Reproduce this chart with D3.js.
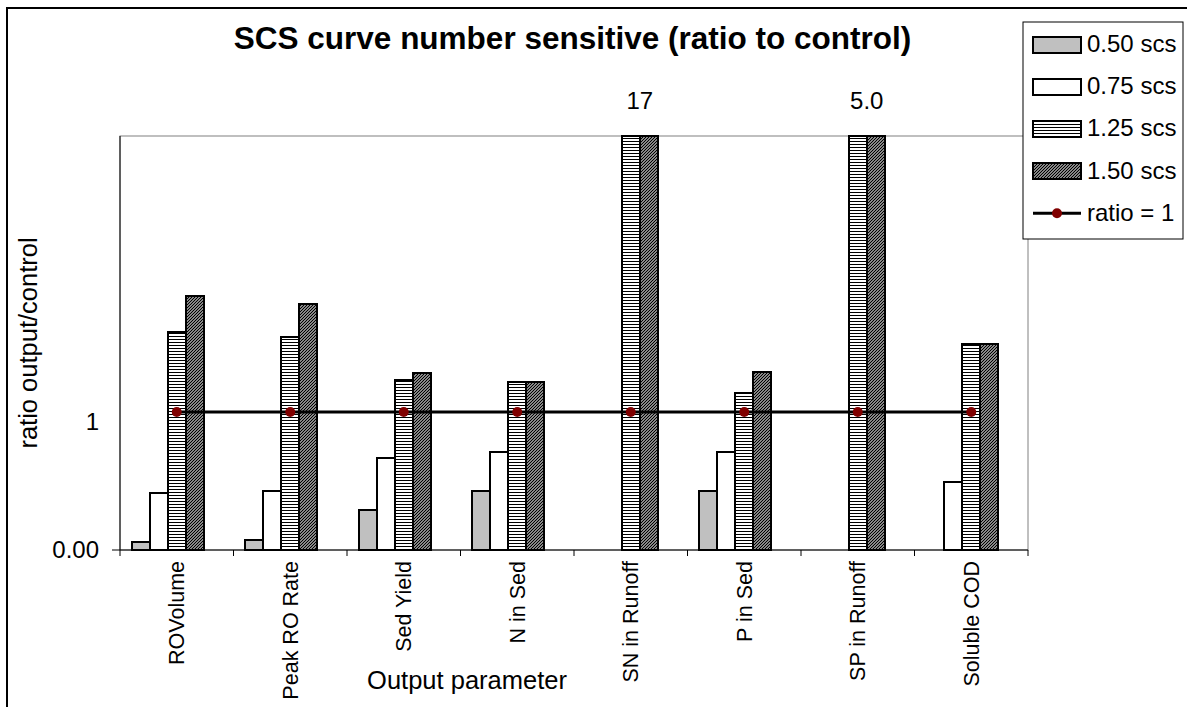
<!DOCTYPE html>
<html>
<head>
<meta charset="utf-8">
<script src="https://cdn.jsdelivr.net/npm/d3@7"></script>
<style>
  html, body { margin: 0; padding: 0; background: #fff; }
  svg { display: block; font-family: "Liberation Sans", Arial, sans-serif; }
</style>
</head>
<body>
<svg id="chart" width="1187" height="707"></svg>
<script>
// Output parameters on the category axis
const categories = ["ROVolume", "Peak RO Rate", "Sed Yield", "N in Sed",
                    "SN in Runoff", "P in Sed", "SP in Runoff", "Soluble COD"];

// Ratio of output to control for each curve-number multiplier (null = not reported)
const scs050 = [0.06, 0.07, 0.29, 0.43, null, 0.43, null, null];
const scs075 = [0.41, 0.43, 0.67, 0.71, null, 0.71, null, 0.49];
const scs125 = [1.58, 1.54, 1.23, 1.22, 17, 1.14, 5.0, 1.49];
const scs150 = [1.84, 1.78, 1.28, 1.22, 17, 1.29, 5.0, 1.49];

// Reference line: ratio of one at every category
const ratioLine = [1, 1, 1, 1, 1, 1, 1, 1];

const seriesNames = ["0.50 scs", "0.75 scs", "1.25 scs", "1.50 scs"];
const lineName = "ratio = 1";

// Y axis
const yMax = 3;
const yTickValues = [0, 1];
const yTickLabels = ["0.00", "1"];

const series = [scs050, scs075, scs125, scs150];
const fills = ["#c0c0c0", "#ffffff", "url(#hatchH)", "url(#hatchD)"];

const svg = d3.select("#chart");
const W = 1187, H = 707;
const plot = { left: 120, right: 1028, top: 136, bottom: 550 };

// Patterns for the striped series
const defs = svg.append("defs");
const pH = defs.append("pattern").attr("id", "hatchH")
  .attr("patternUnits", "userSpaceOnUse").attr("width", 4).attr("height", 3);
pH.append("rect").attr("width", 4).attr("height", 3).attr("fill", "#fff");
pH.append("rect").attr("y", 0).attr("width", 4).attr("height", 1).attr("fill", "#000");

const pD = defs.append("pattern").attr("id", "hatchD")
  .attr("patternUnits", "userSpaceOnUse").attr("width", 3).attr("height", 3);
pD.append("rect").attr("width", 3).attr("height", 3).attr("fill", "#fff");
pD.append("path").attr("d", "M0,3 L3,0 M-1,1 L1,-1 M2,4 L4,2")
  .attr("stroke", "#000").attr("stroke-width", 1.35);

// Background and outer frame
svg.append("rect").attr("width", W).attr("height", H).attr("fill", "#fff");
svg.append("path").attr("d", `M7,${H} L7,8 L${W},8`)
  .attr("fill", "none").attr("stroke", "#000").attr("stroke-width", 2);

// Scales
const x0 = d3.scaleBand().domain(categories).range([plot.left, plot.right]).padding(0);
const x1 = d3.scaleBand().domain(d3.range(5)).range([0, x0.bandwidth()])
  .paddingInner(0).paddingOuter(0.65);
const y = d3.scaleLinear().domain([0, yMax]).range([plot.bottom, plot.top]);

// Plot area border
svg.append("rect")
  .attr("x", plot.left).attr("y", plot.top)
  .attr("width", plot.right - plot.left).attr("height", plot.bottom - plot.top)
  .attr("fill", "#fff").attr("stroke", "#808080").attr("stroke-width", 1);

// Bars
const barG = svg.append("g");
series.forEach((vals, si) => {
  barG.selectAll(null)
    .data(vals.map((v, i) => ({ cat: categories[i], v })).filter(d => d.v != null))
    .join("rect")
    .attr("x", d => x0(d.cat) + x1(si))
    .attr("y", d => y(Math.min(d.v, yMax)))
    .attr("width", x1.bandwidth())
    .attr("height", d => y(0) - y(Math.min(d.v, yMax)))
    .attr("fill", fills[si])
    .attr("stroke", "#000")
    .attr("stroke-width", 2)
    .attr("shape-rendering", "crispEdges");
});

// Values beyond the axis maximum are written above the clipped bars
const fmt = d3.format(".2r");
svg.append("g").selectAll("text")
  .data(categories.map((c, i) => ({ cat: c, v: scs150[i] })).filter(d => d.v > yMax))
  .join("text")
  .attr("x", d => x0(d.cat) + x1(3))
  .attr("y", y(yMax) - 27)
  .attr("text-anchor", "middle")
  .attr("font-size", 24)
  .attr("fill", "#000")
  .text(d => fmt(d.v));

// X axis
const xAxis = svg.append("g").attr("transform", `translate(0,${plot.bottom})`);
xAxis.append("line").attr("x1", plot.left).attr("x2", plot.right)
  .attr("stroke", "#000").attr("stroke-width", 1);
const boundaries = categories.map(c => x0(c)).concat([plot.right]);
xAxis.selectAll("line.tick").data(boundaries).join("line")
  .attr("class", "tick")
  .attr("x1", d => d).attr("x2", d => d).attr("y1", 0).attr("y2", 6)
  .attr("stroke", "#000").attr("stroke-width", 1);
xAxis.selectAll("text").data(categories).join("text")
  .attr("transform", d => `translate(${x0(d) + x0.bandwidth() / 2},11) rotate(-90)`)
  .attr("text-anchor", "end")
  .attr("dy", "0.35em")
  .attr("font-size", 21.5)
  .attr("fill", "#000")
  .text(d => d);

// Y axis
svg.append("line").attr("x1", plot.left).attr("x2", plot.left)
  .attr("y1", plot.top).attr("y2", plot.bottom)
  .attr("stroke", "#000").attr("stroke-width", 1);
svg.append("line").attr("x1", plot.left - 8).attr("x2", plot.left)
  .attr("y1", y(0)).attr("y2", y(0)).attr("stroke", "#000");
svg.append("g").selectAll("text")
  .data(yTickValues).join("text")
  .attr("x", plot.left - 21)
  .attr("y", d => y(d) + (d === 0 ? 0 : 9.5))
  .attr("dy", "0.35em")
  .attr("text-anchor", "end")
  .attr("font-size", 24)
  .attr("fill", "#000")
  .text((d, i) => yTickLabels[i]);

// Ratio = 1 line with markers at category centres
const cx = c => x0(c) + x0.bandwidth() / 2;
const lineData = categories.map((c, i) => ({ cat: c, v: ratioLine[i] }));
svg.append("path")
  .datum(lineData)
  .attr("d", d3.line().x(d => cx(d.cat)).y(d => y(d.v)))
  .attr("fill", "none").attr("stroke", "#000").attr("stroke-width", 3);
svg.append("g").selectAll("circle").data(lineData).join("circle")
  .attr("cx", d => cx(d.cat)).attr("cy", d => y(d.v))
  .attr("r", 5).attr("fill", "#800000");

// Titles
svg.append("text")
  .attr("x", 572.5).attr("y", 49)
  .attr("text-anchor", "middle")
  .attr("font-size", 31.5).attr("font-weight", "bold")
  .attr("fill", "#000")
  .text("SCS curve number sensitive (ratio to control)");

svg.append("text")
  .attr("x", 467).attr("y", 689)
  .attr("text-anchor", "middle")
  .attr("font-size", 25.5)
  .attr("fill", "#000")
  .text("Output parameter");

svg.append("text")
  .attr("transform", `translate(37,${343}) rotate(-90)`)
  .attr("text-anchor", "middle")
  .attr("font-size", 25.5)
  .attr("fill", "#000")
  .text("ratio output/control");

// Legend
const lg = svg.append("g").attr("transform", "translate(1023,22)");
lg.append("rect").attr("width", 160).attr("height", 217)
  .attr("fill", "#fff").attr("stroke", "#000").attr("stroke-width", 1);
const rowY = i => 22.5 + i * 42.2;
seriesNames.forEach((name, i) => {
  lg.append("rect")
    .attr("x", 10).attr("y", rowY(i) - 8)
    .attr("width", 48).attr("height", 16)
    .attr("fill", fills[i]).attr("stroke", "#000").attr("stroke-width", 2)
    .attr("shape-rendering", "crispEdges");
  lg.append("text")
    .attr("x", 64).attr("y", rowY(i) - 1)
    .attr("dy", "0.35em")
    .attr("font-size", 24).attr("fill", "#000")
    .text(name);
});
lg.append("line").attr("x1", 10).attr("x2", 58)
  .attr("y1", rowY(4)).attr("y2", rowY(4))
  .attr("stroke", "#000").attr("stroke-width", 3);
lg.append("circle").attr("cx", 34).attr("cy", rowY(4)).attr("r", 5).attr("fill", "#800000");
lg.append("text")
  .attr("x", 64).attr("y", rowY(4) - 1)
  .attr("dy", "0.35em")
  .attr("font-size", 24).attr("fill", "#000")
  .text(lineName);
</script>
</body>
</html>
